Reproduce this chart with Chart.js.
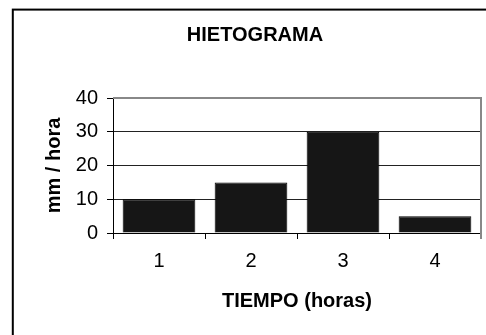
<!DOCTYPE html>
<html>
<head>
<meta charset="utf-8">
<script src="https://cdn.jsdelivr.net/npm/chart.js@4/dist/chart.umd.min.js"></script>
<style>
  html, body { margin: 0; padding: 0; background: #fff; }
  #wrap { width: 486px; height: 335px; position: relative; }
</style>
</head>
<body>
<div id="wrap"><canvas id="c" width="486" height="335"></canvas></div>
<script>
const categories = ['1', '2', '3', '4'];
const values = [10, 15, 30, 5];
const yTicks = [0, 10, 20, 30, 40];
const chartTitle = 'HIETOGRAMA';
const xTitle = 'TIEMPO (horas)';
const yTitle = 'mm / hora';

const FONT = "'Liberation Sans', Arial, sans-serif";

const frame = {
  id: 'frame',
  beforeDraw(chart) {
    const ctx = chart.ctx;
    ctx.save();
    ctx.fillStyle = '#fff';
    ctx.fillRect(0, 0, chart.width, chart.height);
    ctx.restore();
  },
  afterDraw(chart) {
    const ctx = chart.ctx;
    const a = chart.chartArea;
    ctx.save();
    ctx.strokeStyle = '#888';
    ctx.lineWidth = 2;
    ctx.beginPath();
    ctx.moveTo(a.left, a.top);
    ctx.lineTo(a.right, a.top);
    ctx.lineTo(a.right, a.bottom + 6);
    ctx.stroke();
    ctx.strokeStyle = '#000';
    ctx.lineWidth = 2;
    ctx.strokeRect(12.8, 9.6, 600, 500);
    ctx.restore();
  }
};

new Chart(document.getElementById('c'), {
  type: 'bar',
  data: {
    labels: categories,
    datasets: [{
      data: values,
      backgroundColor: '#161616',
      borderColor: '#000',
      borderWidth: 1,
      barPercentage: 0.79,
      categoryPercentage: 1.0
    }]
  },
  options: {
    responsive: false,
    animation: false,
    devicePixelRatio: 1,
    layout: { padding: { left: 29, right: 5, top: 0, bottom: 0 } },
    plugins: {
      legend: { display: false },
      tooltip: { enabled: false },
      title: {
        display: true,
        text: chartTitle,
        color: '#000',
        font: { family: FONT, size: 20, weight: 'bold' },
        padding: { top: 23, bottom: 51 }
      }
    },
    scales: {
      x: {
        offset: true,
        afterFit: s => { s.height = 102; },
        grid: { display: true, drawOnChartArea: false, offset: true, tickLength: 6, tickColor: '#000', color: '#000' },
        border: { display: true, color: '#000', width: 1 },
        ticks: { color: '#000', padding: 10, font: { family: FONT, size: 20 } },
        title: {
          display: true, text: xTitle, color: '#000',
          font: { family: FONT, size: 20, weight: 'bold' },
          padding: { top: 0, bottom: 22 }
        }
      },
      y: {
        min: 0, max: 40,
        afterFit: s => { s.width = 84; },
        afterBuildTicks: s => { s.ticks = yTicks.map(v => ({ value: v })); },
        grid: {
          color: c => (c.tick && c.tick.value === 40) ? '#888' : '#222',
          tickColor: '#000', tickLength: 6, lineWidth: 1
        },
        border: { display: true, color: '#000', width: 1 },
        ticks: { color: '#000', padding: 9, font: { family: FONT, size: 20 } },
        title: {
          display: true, text: yTitle, color: '#000',
          font: { family: FONT, size: 20, weight: 'bold' },
          padding: { top: 13, bottom: 0 }
        }
      }
    }
  },
  plugins: [frame]
});
</script>
</body>
</html>
